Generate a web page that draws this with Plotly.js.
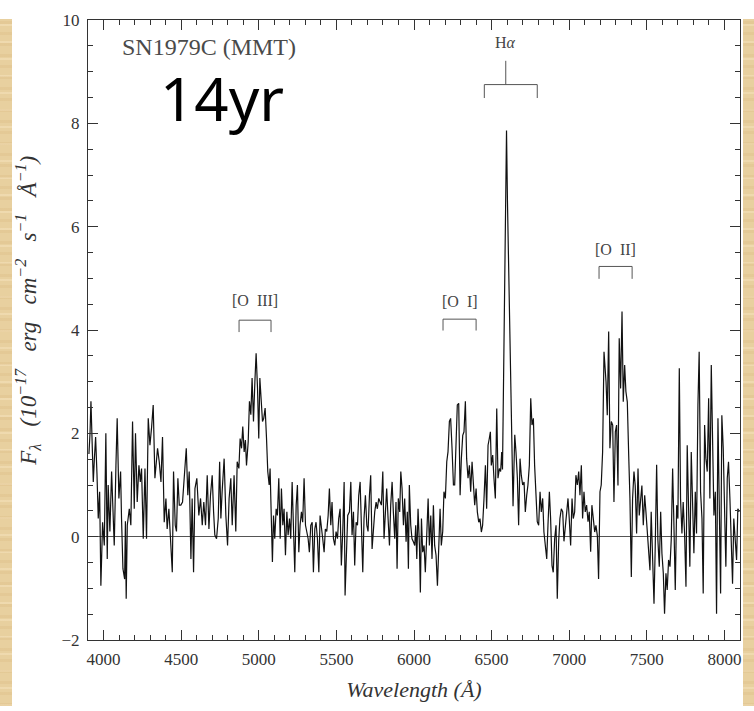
<!DOCTYPE html>
<html><head><meta charset="utf-8">
<script src="https://cdn.plot.ly/plotly-3.0.1.min.js"></script>
<style>
html,body{margin:0;padding:0;background:#fff;width:754px;height:711px;overflow:hidden}
#chart{position:absolute;left:0;top:0;width:754px;height:711px}
.parch{position:absolute;top:19px;height:687px;pointer-events:none;
background-color:#e8d09f;
background-image:
repeating-linear-gradient(0deg,rgba(190,140,70,0.10) 0px,rgba(190,140,70,0.10) 3px,rgba(255,255,255,0) 3px,rgba(255,255,255,0) 11px),
repeating-linear-gradient(0deg,rgba(255,240,210,0.30) 0px,rgba(255,240,210,0.30) 2px,rgba(255,255,255,0) 2px,rgba(255,255,255,0) 17px);}
</style></head>
<body>
<div id="chart"></div>
<div class="parch" style="left:0;width:12px"></div>
<div class="parch" style="left:743px;width:11px"></div>
<script>
// Wavelength (Angstrom) and flux F_lambda (1e-17 erg cm^-2 s^-1 A^-1)
const wavelength = [
3906,3913,3919,3926,3934,3941,3949,3958,3966,3975,3983,3994,4005,4015,4024,4030,4041,4052,4063,4069,
4080,4088,4099,4110,4116,4125,4136,4141,4146,4153,4166,4176,4187,4198,4206,4217,4228,4237,4245,4256,
4267,4277,4288,4299,4310,4320,4331,4340,4348,4359,4370,4380,4391,4402,4410,4421,4432,4443,4451,4462,
4470,4479,4488,4498,4509,4520,4533,4543,4552,4563,4571,4580,4589,4601,4614,4625,4636,4646,4657,4668,
4679,4689,4700,4709,4717,4728,4739,4748,
4756,4764,4777,4788,4799,4809,4820,4829,4841,4852,4861,4872,4880,4889,4897,4906,4914,4921,4932,4940,
4949,4957,4966,4975,4983,4992,5000,5007,5015,5024,5032,5041,5050,5058,5067,5073,5082,5088,5095,5103,
5112,5120,5129,5138,5146,5155,5163,5172,5181,5189,5198,5206,5215,5223,5232,5241,5249,5258,5266,5275,
5283,5292,5301,5309,5318,5326,5335,5344,5352,5361,5369,5378,5387,5395,5404,5412,5421,5429,5438,5447,
5455,5464,5472,5481,5490,5498,5507,5515,5524,5532,5541,5550,5556,5565,5573,
5584,5593,5601,5610,5618,5627,5636,5644,5653,5661,5670,5678,5687,5696,5704,5713,5721,5730,5739,5747,
5756,5764,5773,5781,5790,5799,5807,5816,5824,5833,5842,5850,5859,5867,5876,5884,5891,5899,5908,5915,
5923,5932,5940,5949,5957,5964,5970,5979,5987,5996,6005,6011,6018,6026,6035,6041,6048,6056,6065,6073,
6082,6091,6099,6108,6116,6125,6133,6142,6151,6159,6168,6176,6185,6193,6202,6211,6219,6228,6236,6245,
6254,6262,6271,6279,6288,6297,6305,6314,6322,6331,6339,6348,6357,6365,6374,6382,6391,6400,6408,6417,
6425,6434,6442,6451,6460,6468,6477,6485,6492,6498,6507,6515,6524,6533,6541,6550,6558,6565,6570,6596,
6602,6638,6649,6657,6666,6674,6683,6691,6700,6709,6717,6726,6734,6743,6752,6760,6769,6777,6786,6794,
6803,6812,6820,6829,6837,6846,6855,6863,6872,6880,6889,6897,6906,6915,6923,6932,6940,6949,6958,6966,
6975,6983,6992,7000,7009,7018,7026,7035,7043,7052,7061,7069,7078,7086,7095,7103,7112,7121,7129,7138,
7146,7155,7164,7172,7181,7189,7198,7206,7215,7224,
7237,7245,7254,7262,7271,7280,7288,7297,7305,7314,7322,7331,7340,7348,7357,7365,7374,7383,7391,7400,
7408,7417,7425,7434,7443,7451,7460,7468,7477,7486,7494,7503,7511,7520,7528,7537,7546,7554,7563,7571,
7580,7589,7597,7606,7614,7623,7631,7640,7649,7657,7666,7674,7683,7692,7700,7709,7717,7726,7734,7743,
7752,7760,7769,7777,7786,7794,7803,7812,7820,7829,7837,7846,7855,7863,7872,7880,7889,7898,7906,7915,
7923,7932,7941,7949,7958,7966,7975,7983,7992,8001,8009,8018,8026,8035,8043,8052,8060,8069,8078,8086,
8095
];
const flux = [
1.60,2.00,2.62,1.80,1.06,1.50,1.93,1.20,0.35,0.87,-0.95,0.28,-0.17,2.00,-0.43,1.00,0.10,1.26,0.48,-0.17,
1.38,2.29,0.74,1.26,0.35,-0.62,-0.82,0.30,-1.20,0.22,0.54,0.22,2.23,0.54,2.00,0.67,1.38,1.06,1.32,-0.04,
1.32,-0.04,2.29,1.77,2.13,2.55,1.13,1.38,1.71,1.45,1.06,1.93,0.28,0.74,0.15,0.54,-0.04,-0.69,1.26,0.22,
0.10,1.13,0.61,0.61,0.67,1.26,1.71,0.80,1.26,-0.43,0.74,-0.69,0.93,1.13,0.41,0.74,0.22,0.67,0.22,1.19,
0.15,0.80,1.19,0.48,0.03,-0.04,0.35,1.45,
0.35,0.87,1.51,0.41,-0.17,0.74,1.13,0.22,1.19,0.10,1.45,1.32,1.90,1.71,2.13,1.64,1.87,1.38,1.84,2.62,
2.36,3.07,2.23,3.00,3.55,2.87,1.90,3.07,2.55,2.23,2.29,2.49,1.90,1.26,1.00,1.32,0.22,-0.49,0.41,-0.04,
0.54,0.41,1.13,-0.04,0.93,0.22,0.54,-0.36,0.48,0.03,0.35,-0.04,1.06,0.22,-0.69,0.61,1.00,-0.30,0.22,0.48,
0.28,1.13,0.22,0.10,-0.04,-0.30,0.22,0.28,-0.69,0.15,0.28,-0.04,-0.69,0.41,0.22,-0.04,-0.30,0.15,0.10,0.41,
0.93,0.22,0.67,-0.04,-0.17,0.10,-0.04,0.35,0.54,-0.56,0.10,1.06,-1.14,-0.04,0.41,
0.48,1.06,0.03,0.48,-0.56,0.28,0.22,0.80,1.06,-0.04,-0.69,0.35,0.80,0.22,0.10,0.80,1.19,-0.24,0.28,0.48,
0.67,0.54,0.74,0.67,0.61,1.26,-0.04,0.48,0.93,0.35,-0.17,0.61,1.06,0.48,-0.04,0.67,-0.62,0.74,0.48,1.26,
0.93,0.22,0.74,-0.10,0.48,-0.62,1.00,0.22,-0.04,-0.10,-0.17,0.22,-0.43,0.54,-0.17,-1.08,0.35,-0.30,-0.17,-0.69,
0.10,0.74,-0.17,0.41,-0.43,0.61,-0.17,-0.36,-0.95,-0.04,0.54,-0.17,0.10,0.87,0.74,1.45,1.64,2.23,2.29,1.71,
1.00,1.00,1.90,2.55,2.58,0.80,1.51,1.96,2.03,2.62,1.51,1.13,1.38,0.87,1.45,1.06,0.61,0.93,0.48,0.28,
0.35,0.09,0.22,0.74,1.38,0.54,1.77,1.90,2.03,1.38,1.58,1.13,0.74,2.48,1.13,1.32,1.26,1.64,1.30,7.86,
6.50,0.59,1.97,1.64,1.13,0.22,1.51,1.19,1.00,1.06,0.48,0.80,1.00,1.38,2.68,2.16,2.29,1.38,0.61,0.29,
0.22,0.87,0.48,0.74,0.09,-0.17,-0.43,0.22,0.87,0.35,-0.56,-0.69,-0.04,0.22,-1.20,-0.09,0.35,0.54,0.48,-0.09,
0.22,0.54,0.74,0.35,-0.17,0.74,0.35,0.48,1.19,1.00,1.26,0.80,1.38,0.35,0.87,0.48,0.61,0.29,0.48,-0.29,
0.61,0.35,0.09,0.22,0.02,-0.82,0.87,1.00,1.64,3.58,
3.00,2.35,3.97,1.71,2.23,2.16,0.67,2.03,2.16,0.99,3.84,2.87,4.36,2.61,3.32,2.81,2.61,1.58,0.74,-0.78,
0.74,1.26,0.99,0.06,1.32,0.41,0.74,0.99,0.22,0.80,0.48,0.06,-0.45,-0.65,0.48,-0.58,-1.30,-0.19,1.39,-0.06,
-0.58,0.48,-0.32,-0.71,-1.49,-0.71,-1.03,-0.45,-0.58,-0.06,1.32,0.28,-1.03,0.61,0.35,3.26,0.74,0.06,0.67,0.06,
-0.97,1.77,0.41,-0.58,1.64,0.61,-0.32,0.87,0.06,2.55,3.58,0.87,0.35,-1.10,2.16,1.52,1.26,2.68,0.74,3.32,
1.64,0.41,0.87,-1.49,2.29,0.99,-1.10,2.35,1.71,0.48,-0.58,1.13,1.45,0.74,0.06,-0.91,0.35,-0.06,-0.45,0.54,
0.48
];
// Emission-line identifications: label and wavelength span of the bracket
const lineLabels = ['[O&nbsp;&nbsp;III]', '[O&nbsp;&nbsp;I]', 'H<i>α</i>', '[O&nbsp;&nbsp;II]'];
const lineStart  = [4873, 6187, 6453, 7192];
const lineEnd    = [5079, 6400, 6794, 7405];
const xTickVals  = [4000,4500,5000,5500,6000,6500,7000,7500,8000];
const yTickVals  = [-2,0,2,4,6,8,10];

// placement of the bracket annotations (flux units): [barY, endY, labelY]
const bracketPlace = [[4.19,3.96,4.58],[4.21,3.99,4.55],[8.75,8.49,9.57],[5.23,4.99,5.55]];

const ink = '#333';
const shapes = [];
const annotations = [];
lineLabels.forEach((lab, i) => {
  const [by, ey, ly] = bracketPlace[i];
  const a = lineStart[i], b = lineEnd[i];
  const ls = {color:'#555', width:1};
  shapes.push({type:'line', xref:'x', yref:'y', x0:a, x1:b, y0:by, y1:by, line:ls});
  shapes.push({type:'line', xref:'x', yref:'y', x0:a, x1:a, y0:by, y1:ey, line:ls});
  shapes.push({type:'line', xref:'x', yref:'y', x0:b, x1:b, y0:by, y1:ey, line:ls});
  let lx = (a + b) / 2;
  if (i === 2) {
    lx = 6591;
    shapes.push({type:'line', xref:'x', yref:'y', x0:lx, x1:lx, y0:by, y1:9.21, line:ls});
  }
  annotations.push({x:lx, y:ly, xref:'x', yref:'y', text:lab, showarrow:false,
    xanchor:'center', yanchor:'middle', font:{family:'Liberation Serif', size:16, color:'#444'}});
});
annotations.push({x:4105, y:9.48, xref:'x', yref:'y', text:'SN1979C (MMT)', showarrow:false,
  xanchor:'left', yanchor:'middle', font:{family:'Liberation Serif', size:24, color:'#4a4a4a'}});
annotations.push({x:4350, y:8.5, xref:'x', yref:'y', text:'14yr', showarrow:false,
  xanchor:'left', yanchor:'middle', font:{family:'Noto Sans', size:60, color:'#000'}});
// y-axis title, placed as a rotated annotation in the left margin
const sp = '&nbsp;&nbsp;&nbsp;';
annotations.push({x:-0.092, y:0.531, xref:'paper', yref:'paper', textangle:-90, showarrow:false,
  xanchor:'center', yanchor:'middle',
  text:'F<sub>λ</sub>'+sp+'(10<sup>−17</sup>'+sp+'erg'+sp+'cm<sup>−2</sup>'+sp+'s<sup>−1</sup>'+sp+'Å<sup>−1</sup>)',
  font:{family:'Liberation Serif', size:23, color:ink, style:'italic'}});

const trace = {x: wavelength, y: flux, type:'scatter', mode:'lines',
  line:{color:'#111', width:1.2}, hoverinfo:'skip', showlegend:false};

const tickFont = {family:'Liberation Serif', size:17, color:ink};
const layout = {
  width:754, height:711,
  margin:{l:88, r:14, t:20, b:71},
  paper_bgcolor:'#fff', plot_bgcolor:'#fff',
  showlegend:false,
  xaxis:{range:[3900,8100], tickvals:xTickVals, ticks:'inside', ticklen:10, tickcolor:ink, tickwidth:1,
    minor:{dtick:100, tick0:4000, ticks:'inside', ticklen:5, tickcolor:ink, tickwidth:1, showgrid:false},
    mirror:'allticks', showline:true, linecolor:ink, linewidth:1, showgrid:false, zeroline:false,
    tickfont:tickFont, ticklabelstandoff:4,
    title:{text:'Wavelength (Å)', font:{family:'Liberation Serif', size:22, color:ink, style:'italic'}, standoff:13}},
  yaxis:{range:[-2,10], tickvals:yTickVals, ticks:'inside', ticklen:10, tickcolor:ink, tickwidth:1,
    minor:{dtick:0.5, tick0:0, ticks:'inside', ticklen:5, tickcolor:ink, tickwidth:1, showgrid:false},
    mirror:'allticks', showline:true, linecolor:ink, linewidth:1, showgrid:false,
    zeroline:true, zerolinecolor:'#555', zerolinewidth:1,
    tickfont:tickFont, ticklabelstandoff:4},
  shapes:shapes,
  annotations:annotations
};
Plotly.newPlot('chart', [trace], layout, {displayModeBar:false, staticPlot:true});
</script>
</body></html>
